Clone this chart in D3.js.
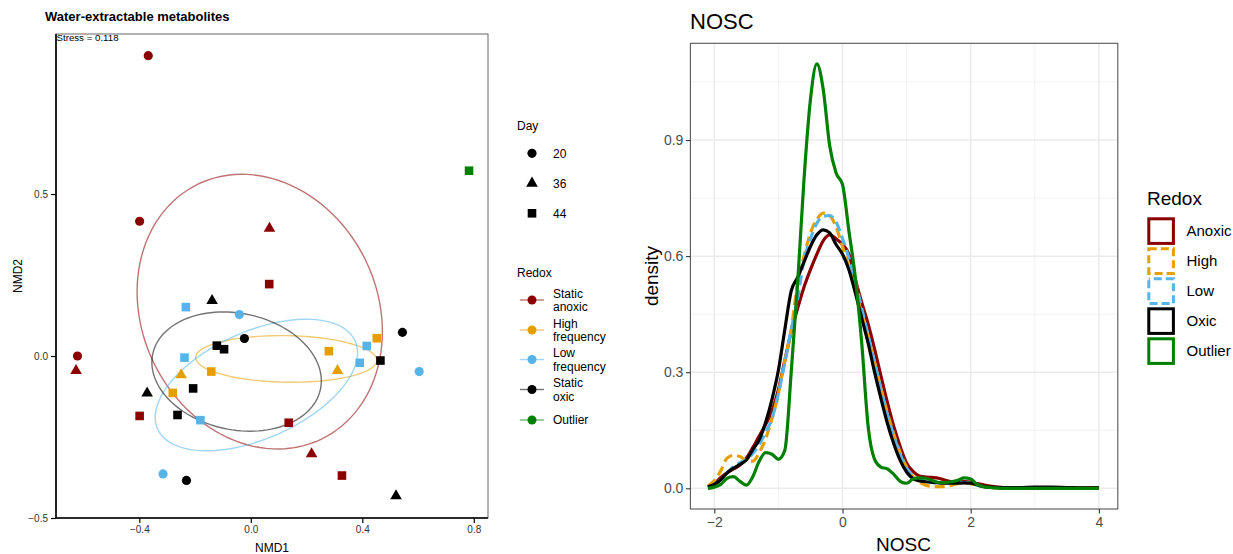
<!DOCTYPE html>
<html lang="en">
<head>
<meta charset="utf-8">
<title>Water-extractable metabolites / NOSC</title>
<script src="https://cdn.jsdelivr.net/npm/d3@7"></script>
<style>
body { margin: 0; background: #fff; font-family: "Liberation Sans", Arial, sans-serif; }
svg { display: block; }
</style>
</head>
<body>
<script>
// ---- NMDS data (left panel) ----
var ptX = [-0.368,-0.399,-0.622,-0.627,0.067,0.218,0.066,-0.399,0.136,0.327,
           0.311,-0.250,0.452,0.280,-0.142,-0.280,
           -0.041,0.604,-0.315,-0.233,0.416,-0.238,0.391,-0.181,
           0.544,-0.023,-0.231,-0.139,-0.372,0.521,-0.122,-0.096,0.465,-0.207,-0.263,
           0.783];
var ptY = [0.927,0.416,0.000,-0.045,0.394,-0.302,0.222,-0.185,-0.206,-0.369,
           -0.045,-0.058,0.055,0.015,-0.048,-0.114,
           0.128,-0.048,-0.364,0.151,0.031,-0.005,-0.021,-0.198,
           0.073,0.054,-0.384,0.171,-0.115,-0.432,0.032,0.021,-0.014,-0.100,-0.182,
           0.572];
var ptRedox = ["A","A","A","A","A","A","A","A","A","A",
               "H","H","H","H","H","H",
               "L","L","L","L","L","L","L","L",
               "O","O","O","O","O","O","O","O","O","O","O",
               "X"];
var ptDay = [20,20,20,36,36,36,44,44,44,44,
             36,36,44,44,44,44,
             20,20,20,44,44,44,44,44,
             20,20,20,36,36,36,44,44,44,44,44,
             44];

var redoxKeys = ["A","H","L","O","X"];
var redoxLabels = [["Static","anoxic"],["High","frequency"],["Low","frequency"],["Static","oxic"],["Outlier"]];
var redoxColors = ["#8B0000","#E69F00","#56B4E9","#000000","#008000"];
var days = [20, 36, 44];

// ellipse centre, half-extent x / y and correlation, per redox group
var ellGroup = ["A","H","L","O"];
var ellCx = [0.032, 0.127, 0.020, -0.051];
var ellCy = [0.137, -0.009, -0.0895, -0.048];
var ellSx = [0.440, 0.325, 0.363, 0.304];
var ellSy = [0.424, 0.072, 0.203, 0.184];
var ellR  = [-0.145, -0.06, 0.492, -0.156];

var nmdXTicks = [-0.4, 0.0, 0.4, 0.8];
var nmdYTicks = [-0.5, 0.0, 0.5];

// ---- NOSC density data (right panel) ----
var noscX = [-2.1,-2.0,-1.9,-1.8,-1.7,-1.6,-1.5,-1.4,-1.3,-1.2,-1.1,-1.0,-0.9,-0.8,-0.7,-0.6,-0.5,-0.4,-0.3,-0.2,-0.1,
             0.0,0.1,0.2,0.3,0.4,0.5,0.6,0.7,0.8,0.9,1.0,1.1,1.2,1.3,1.4,1.5,1.6,1.7,1.8,1.9,2.0,2.1,2.2,2.3,2.4,2.5,
             2.75,3.0,3.25,3.5,3.75,4.0];
var densAnoxic = [0.003,0.012,0.028,0.040,0.050,0.060,0.078,0.105,0.135,0.165,0.200,0.255,0.330,0.405,0.465,0.520,0.565,0.605,0.640,0.655,0.645,
                  0.630,0.605,0.540,0.480,0.425,0.360,0.290,0.222,0.160,0.108,0.065,0.044,0.032,0.029,0.028,0.026,0.021,0.017,0.016,0.017,0.016,0.012,0.009,0.006,0.004,0.002,
                  0.001,0.001,0.001,0.000,0.001,0.002];
var densHigh = [0.006,0.020,0.045,0.078,0.085,0.082,0.072,0.070,0.092,0.128,0.180,0.245,0.330,0.410,0.530,0.600,0.660,0.695,0.711,0.705,0.675,
                0.625,0.570,0.510,0.450,0.390,0.325,0.258,0.195,0.140,0.092,0.055,0.030,0.016,0.008,0.005,0.004,0.005,0.008,0.012,0.014,0.012,0.007,0.004,0.002,0.001,0.000,
                0.000,0.000,0.000,0.000,0.000,0.000];
var densLow = [0.003,0.010,0.022,0.040,0.056,0.066,0.075,0.090,0.113,0.145,0.180,0.245,0.325,0.410,0.490,0.590,0.645,0.685,0.703,0.705,0.688,
               0.645,0.595,0.535,0.465,0.395,0.325,0.255,0.190,0.135,0.088,0.052,0.032,0.022,0.019,0.017,0.015,0.014,0.014,0.014,0.015,0.013,0.008,0.004,0.002,0.001,0.001,
               0.000,0.000,0.000,0.000,0.000,0.000];
var densOxic = [0.004,0.010,0.022,0.040,0.052,0.062,0.073,0.100,0.125,0.170,0.230,0.305,0.410,0.510,0.545,0.585,0.625,0.655,0.668,0.660,0.630,
                0.605,0.565,0.505,0.440,0.375,0.300,0.232,0.168,0.115,0.072,0.042,0.025,0.019,0.017,0.015,0.014,0.013,0.013,0.013,0.014,0.013,0.009,0.005,0.003,0.002,0.002,
                0.002,0.003,0.003,0.002,0.001,0.001];
var densOutlier = [0.000,0.003,0.010,0.026,0.030,0.018,0.008,0.030,0.070,0.092,0.088,0.075,0.098,0.300,0.530,0.800,1.005,1.097,1.030,0.885,0.815,
                   0.785,0.665,0.545,0.375,0.160,0.075,0.055,0.050,0.036,0.018,0.013,0.024,0.027,0.026,0.020,0.015,0.015,0.017,0.021,0.027,0.024,0.010,0.004,0.002,0.001,0.000,
                   0.000,0.000,0.000,0.000,0.000,0.000];
var noscSeries = ["Anoxic","High","Low","Oxic","Outlier"];
var noscValues = [densAnoxic, densHigh, densLow, densOxic, densOutlier];
var noscDash = [null, "10,5", "10,5", null, null];
var noscDashOffset = [0, 0, 7, 0, 0];
var noscXTicks = [-2, 0, 2, 4];
var noscXMinor = [-1, 1, 3];
var noscYTicks = [0.0, 0.3, 0.6, 0.9];
var noscYMinor = [0.15, 0.45, 0.75, 1.05];

var width = 1233, height = 554;
var svg = d3.select("body").append("svg").attr("width", width).attr("height", height);

// ================= left panel =================
var xL = d3.scaleLinear().domain([-0.699, 0.851]).range([56, 488]);
var yL = d3.scaleLinear().domain([-0.5, 0.994]).range([518, 34]);
var colorOf = d3.scaleOrdinal().domain(redoxKeys).range(redoxColors);
var shapeOf = d3.scaleOrdinal().domain(days).range([d3.symbolCircle, d3.symbolTriangle, d3.symbolSquare]);
var sizeOf = d3.scaleOrdinal().domain(days).range([66, 58, 74]);

svg.append("text").attr("x", 45).attr("y", 21)
  .attr("font-size", 13).attr("font-weight", "bold").text("Water-extractable metabolites");

svg.append("rect").attr("x", 56).attr("y", 34).attr("width", 432).attr("height", 484)
  .attr("fill", "none").attr("stroke", "#666").attr("stroke-width", 1);

var gL = svg.append("g");

// ellipses
ellGroup.forEach(function(g, i) {
  var pts = d3.range(0, 361, 3).map(function(deg) {
    var t = deg * Math.PI / 180;
    var ex = ellCx[i] + ellSx[i] * Math.cos(t);
    var ey = ellCy[i] + ellSy[i] * (ellR[i] * Math.cos(t) + Math.sqrt(1 - ellR[i] * ellR[i]) * Math.sin(t));
    return [xL(ex), yL(ey)];
  });
  gL.append("path").attr("d", d3.line()(pts))
    .attr("fill", "none").attr("stroke", colorOf(g)).attr("stroke-opacity", 0.55).attr("stroke-width", 1.4);
});

// points
gL.selectAll("path.pt").data(d3.range(ptX.length)).enter().append("path")
  .attr("class", "pt")
  .attr("transform", function(i) { return "translate(" + xL(ptX[i]) + "," + yL(ptY[i]) + ")"; })
  .attr("d", function(i) { return d3.symbol().type(shapeOf(ptDay[i])).size(sizeOf(ptDay[i]))(); })
  .attr("fill", function(i) { return colorOf(ptRedox[i]); });

svg.append("text").attr("x", 56.5).attr("y", 41).attr("font-size", 9.7).text("Stress = 0.118");

// axes
var axL = svg.append("g").attr("transform", "translate(56,0)")
  .call(d3.axisLeft(yL).tickValues(nmdYTicks).tickFormat(d3.format(".1f")).tickSize(5).tickSizeOuter(0));
var axB = svg.append("g").attr("transform", "translate(0,518)")
  .call(d3.axisBottom(xL).tickValues(nmdXTicks).tickFormat(d3.format(".1f")).tickSize(5).tickSizeOuter(0));
[axL, axB].forEach(function(a) {
  a.select(".domain").attr("stroke", "#000").attr("stroke-width", 1.6);
  a.selectAll(".tick line").attr("stroke", "#000").attr("stroke-width", 1.2);
  a.selectAll(".tick text").attr("font-size", 10).attr("fill", "#333")
    .attr("font-family", "Liberation Sans, Arial, sans-serif");
});
axL.select(".domain").attr("d", "M0,34V518");
axB.select(".domain").attr("d", "M56,0H488");

svg.append("text").attr("x", 272).attr("y", 552).attr("text-anchor", "middle").attr("font-size", 12).text("NMD1");
svg.append("text").attr("transform", "translate(22,276) rotate(-90)").attr("text-anchor", "middle")
  .attr("font-size", 12).text("NMD2");

// left legends
var lg = svg.append("g");
lg.append("text").attr("x", 517).attr("y", 130).attr("font-size", 12).text("Day");
days.forEach(function(d, i) {
  var cy = 153.3 + i * 30;
  lg.append("path").attr("transform", "translate(532," + cy + ")")
    .attr("d", d3.symbol().type(shapeOf(d)).size(sizeOf(d))()).attr("fill", "#000");
  lg.append("text").attr("x", 553).attr("y", cy + 4.3).attr("font-size", 12).text(d);
});
lg.append("text").attr("x", 517).attr("y", 277).attr("font-size", 12).text("Redox");
var keyY = [300, 330, 359.5, 389.5, 420];
redoxKeys.forEach(function(k, i) {
  var cy = keyY[i];
  lg.append("line").attr("x1", 520).attr("x2", 544).attr("y1", cy).attr("y2", cy)
    .attr("stroke", colorOf(k)).attr("stroke-opacity", 0.55).attr("stroke-width", 1.4);
  lg.append("circle").attr("cx", 532).attr("cy", cy).attr("r", 4.5).attr("fill", colorOf(k));
  var lines = redoxLabels[i];
  lines.forEach(function(s, j) {
    var ty = lines.length === 2 ? cy - 6.7 + j * 13.5 : cy;
    lg.append("text").attr("x", 553).attr("y", ty + 4.3).attr("font-size", 12).text(s);
  });
});

// ================= right panel =================
var xR = d3.scaleLinear().domain([-2.373, 4.295]).range([690.4, 1117.8]);
var yR = d3.scaleLinear().domain([-0.0535, 1.150]).range([509, 43.3]);
var gR = svg.append("g");

svg.append("text").attr("x", 690).attr("y", 28.5).attr("font-size", 22).text("NOSC");

noscXMinor.forEach(function(v) {
  gR.append("line").attr("x1", xR(v)).attr("x2", xR(v)).attr("y1", 43.3).attr("y2", 509)
    .attr("stroke", "#F2F2F2").attr("stroke-width", 1);
});
noscYMinor.forEach(function(v) {
  gR.append("line").attr("x1", 690.4).attr("x2", 1117.8).attr("y1", yR(v)).attr("y2", yR(v))
    .attr("stroke", "#F2F2F2").attr("stroke-width", 1);
});
noscXTicks.forEach(function(v) {
  gR.append("line").attr("x1", xR(v)).attr("x2", xR(v)).attr("y1", 43.3).attr("y2", 509)
    .attr("stroke", "#EBEBEB").attr("stroke-width", 1.5);
});
noscYTicks.forEach(function(v) {
  gR.append("line").attr("x1", 690.4).attr("x2", 1117.8).attr("y1", yR(v)).attr("y2", yR(v))
    .attr("stroke", "#EBEBEB").attr("stroke-width", 1.5);
});

var line = d3.line().curve(d3.curveMonotoneX)
  .x(function(d) { return xR(d[0]); }).y(function(d) { return yR(d[1]); });
noscSeries.forEach(function(s, i) {
  var pts = noscX.map(function(x, j) { return [x, noscValues[i][j]]; });
  gR.append("path").attr("d", line(pts)).attr("fill", "none")
    .attr("stroke", redoxColors[i]).attr("stroke-width", 3.2)
    .attr("stroke-dasharray", noscDash[i]).attr("stroke-dashoffset", noscDashOffset[i])
    .attr("stroke-linejoin", "round");
});

gR.append("rect").attr("x", 690.4).attr("y", 43.3).attr("width", 427.4).attr("height", 465.7)
  .attr("fill", "none").attr("stroke", "#555").attr("stroke-width", 1.1);

var axRL = svg.append("g").attr("transform", "translate(690.4,0)")
  .call(d3.axisLeft(yR).tickValues(noscYTicks).tickFormat(d3.format(".1f")).tickSize(4.5).tickSizeOuter(0));
var axRB = svg.append("g").attr("transform", "translate(0,509)")
  .call(d3.axisBottom(xR).tickValues(noscXTicks).tickFormat(d3.format("d")).tickSize(4.5).tickSizeOuter(0));
[axRL, axRB].forEach(function(a) {
  a.select(".domain").remove();
  a.selectAll(".tick line").attr("stroke", "#333").attr("stroke-width", 1.1);
  a.selectAll(".tick text").attr("font-size", 14).attr("fill", "#4D4D4D")
    .attr("font-family", "Liberation Sans, Arial, sans-serif");
});
axRL.selectAll(".tick text").attr("x", -7);
axRB.selectAll(".tick text").attr("y", 8);

svg.append("text").attr("x", 903.5).attr("y", 551).attr("text-anchor", "middle").attr("font-size", 19).text("NOSC");
svg.append("text").attr("transform", "translate(658,276) rotate(-90)").attr("text-anchor", "middle")
  .attr("font-size", 19).text("density");

// right legend
var rg = svg.append("g");
rg.append("text").attr("x", 1147).attr("y", 205).attr("font-size", 19).text("Redox");
noscSeries.forEach(function(s, i) {
  var top = 217.3 + i * 30;
  rg.append("rect").attr("x", 1148.8).attr("y", top + 1.5).attr("width", 24.6).attr("height", 24.6)
    .attr("fill", "#fff").attr("stroke", redoxColors[i]).attr("stroke-width", 3)
    .attr("stroke-dasharray", noscDash[i] ? "8,4" : null)
    .attr("stroke-dashoffset", noscDashOffset[i]);
  rg.append("text").attr("x", 1186.5).attr("y", top + 19).attr("font-size", 15).text(s);
});
</script>
</body>
</html>
